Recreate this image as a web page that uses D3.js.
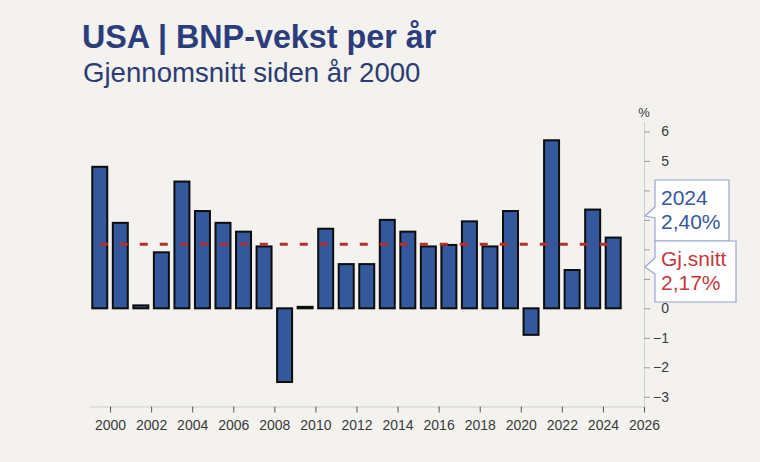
<!DOCTYPE html>
<html>
<head>
<meta charset="utf-8">
<script src="https://cdn.jsdelivr.net/npm/d3@7"></script>
<style>
  html, body { margin: 0; padding: 0; background: #f3f2ef; }
  svg { display: block; font-family: "Liberation Sans", Arial, sans-serif; }
</style>
</head>
<body>
<svg id="chart" width="760" height="462"></svg>
<script>
// USA BNP-vekst (Q4/Q4), bar for hvert år
var years = [1999, 2000, 2001, 2002, 2003, 2004, 2005, 2006, 2007, 2008, 2009, 2010, 2011,
             2012, 2013, 2014, 2015, 2016, 2017, 2018, 2019, 2020, 2021, 2022, 2023, 2024];
var growth = [4.8, 2.9, 0.1, 1.9, 4.3, 3.3, 2.9, 2.6, 2.1, -2.5, 0.05, 2.7, 1.5,
              1.5, 3.0, 2.6, 2.1, 2.15, 2.95, 2.1, 3.3, -0.9, 5.7, 1.3, 3.35, 2.4];
var average = 2.17;
var lastYear = 2024;
var lastValue = 2.4;
var xTicks = [2000, 2002, 2004, 2006, 2008, 2010, 2012, 2014, 2016, 2018, 2020, 2022, 2024, 2026];
var yTicks = [-3, -2, -1, 0, 1, 2, 3, 4, 5, 6];

var svg = d3.select("#chart");

var x = d3.scaleLinear().domain([1999, 2026]).range([89.5, 644]);
var y = d3.scaleLinear().domain([-3.33, 6.33]).range([406.5, 121.7]);

var comma = d3.formatLocale({decimal: ",", thousands: " ", grouping: [3], currency: ["", " kr"]});
var fmt = comma.format(".2f");

// merkelappene dekker y-etikettene bak seg
var mid = Math.round((y(lastValue) + y(average)) / 2);
var boxTop = mid - 61, boxBot = mid + 61;

// tittel
svg.append("text").attr("x", 82).attr("y", 48)
  .attr("font-size", 32.3).attr("font-weight", "bold").attr("fill", "#2c3d7c")
  .text("USA | BNP-vekst per år");
svg.append("text").attr("x", 83).attr("y", 82)
  .attr("font-size", 27.6).attr("fill", "#2c3c72")
  .text("Gjennomsnitt siden år 2000");

// x-akse
var xAxis = svg.append("g").attr("transform", "translate(0," + y.range()[0] + ")")
  .call(d3.axisBottom(x).tickValues(xTicks).tickFormat(d3.format("d")).tickSize(6).tickSizeOuter(0));
xAxis.select(".domain").attr("stroke", "#cfcfcf");
xAxis.selectAll(".tick line").attr("stroke", "#555");
xAxis.selectAll(".tick text").attr("font-size", 14).attr("fill", "#3a3a3a")
  .attr("font-family", "Liberation Sans, Arial, sans-serif").attr("dy", "1.05em");

// y-akse (høyre)
var yAxis = svg.append("g").attr("transform", "translate(" + x.range()[1] + ",0)")
  .call(d3.axisRight(y).tickValues(yTicks).tickSize(6).tickSizeOuter(0));
yAxis.select(".domain").attr("stroke", "#cfcfcf");
yAxis.selectAll(".tick line").attr("stroke", "#999");
yAxis.selectAll(".tick text").attr("font-size", 14).attr("fill", "#3a3a3a")
  .attr("font-family", "Liberation Sans, Arial, sans-serif")
  .attr("text-anchor", "end").attr("x", 25);
yAxis.selectAll(".tick text")
  .filter(function(d){ return y(d) > boxTop - 6 && y(d) < boxBot + 6; })
  .remove();
svg.append("text").attr("x", x.range()[1]).attr("y", 117)
  .attr("text-anchor", "middle").attr("font-size", 13).attr("fill", "#333").text("%");

// søyler
var step = x(2000) - x(1999);
var bw = step * 0.73;
svg.append("g").selectAll("rect").data(growth).enter().append("rect")
  .attr("x", function(d, i){ return x(years[i] + 0.5) - bw / 2; })
  .attr("y", function(d){ return y(Math.max(0, d)); })
  .attr("width", bw)
  .attr("height", function(d){ return Math.abs(y(d) - y(0)); })
  .attr("fill", "#34589b")
  .attr("stroke", "#0d0d0d")
  .attr("stroke-width", 2);

// gjennomsnittslinje
svg.append("line")
  .attr("x1", x(years[0] + 0.5)).attr("x2", x(lastYear + 0.5))
  .attr("y1", y(average)).attr("y2", y(average))
  .attr("stroke", "#b0312f").attr("stroke-width", 3)
  .attr("stroke-dasharray", "8,12");

// merkelapper
var ax = x.range()[1];
function callout(top, h, w, nTop, nBot, tipY, lines, color) {
  var l = ax + 11, r = l + w, b = top + h;
  var p = "M" + l + "," + top + "H" + r + "V" + b + "H" + l + "V" + nBot +
          "L" + (ax + 1) + "," + tipY + "L" + l + "," + nTop + "Z";
  svg.append("path").attr("d", p).attr("fill", "#fff")
    .attr("stroke", "#98a4cc").attr("stroke-width", 1.2);
  lines.forEach(function(t, i){
    svg.append("text").attr("x", l + 6).attr("y", top + 25 + i * 24)
      .attr("font-size", 21).attr("fill", color).text(t);
  });
}
callout(mid - 61, 61, 74, mid - 34, mid - 23, mid - 25,
        [String(lastYear), fmt(lastValue) + "%"], "#3558a0");
callout(mid, 61, 81, mid + 17, mid + 33, mid + 26,
        ["Gj.snitt", fmt(average) + "%"], "#c4393d");
</script>
</body>
</html>
